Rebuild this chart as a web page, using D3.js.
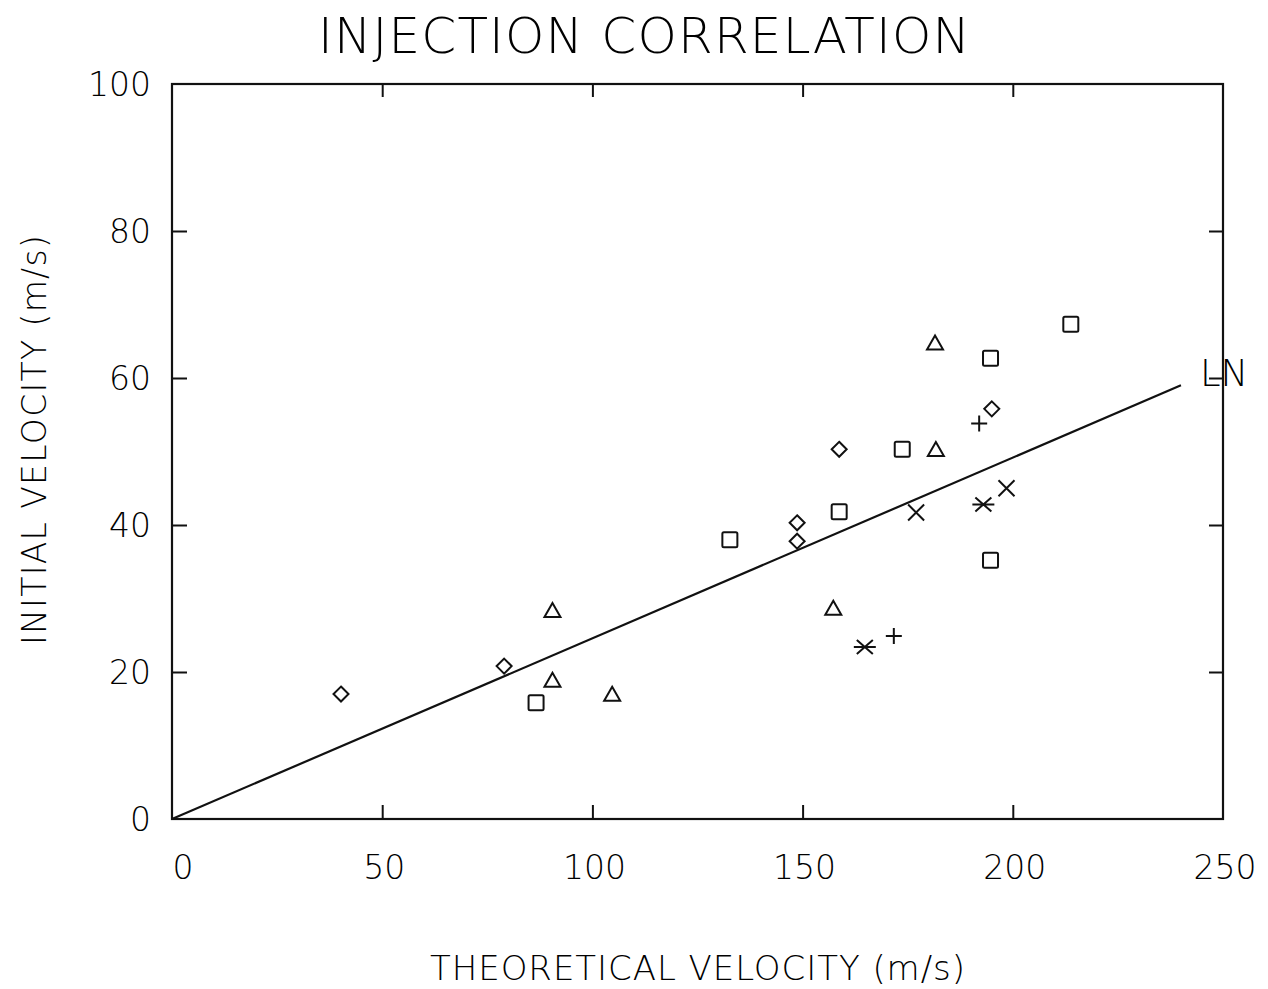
<!DOCTYPE html>
<html>
<head>
<meta charset="utf-8">
<script src="https://cdn.jsdelivr.net/npm/d3@7"></script>
<style>
  html, body { margin: 0; padding: 0; background: #fff; }
  svg text { font-family: "DejaVu Sans", sans-serif; font-weight: 200; fill: #000; }
</style>
</head>
<body>
<svg id="chart" width="1268" height="989"></svg>
<script>
// ---- data ----
const title = "INJECTION CORRELATION";
const xTitle = "THEORETICAL VELOCITY (m/s)";
const yTitle = "INITIAL VELOCITY (m/s)";
const xTickValues = [0, 50, 100, 150, 200, 250];
const yTickValues = [0, 20, 40, 60, 80, 100];

const diamonds  = [[40.2, 17.0], [79.0, 20.8], [148.7, 40.3], [148.7, 37.8], [158.7, 50.3], [195.0, 55.8]];
const triangles = [[90.5, 28.3], [90.5, 18.8], [104.7, 16.9], [157.3, 28.6], [181.7, 50.2], [181.5, 64.7]];
const squares   = [[86.6, 15.8], [132.7, 38.0], [158.7, 41.8], [173.7, 50.3], [194.7, 35.2], [194.7, 62.7], [213.8, 67.3]];
const pluses    = [[192.0, 53.8], [171.7, 24.9]];
const crosses   = [[177.0, 41.7], [198.5, 45.0]];
const stars     = [[193.0, 42.8], [164.8, 23.4]];
const fitLine   = [[0, 0], [240, 59]];
const fitLabel  = "LN";

// ---- layout ----
const svg = d3.select("#chart");
const L = 172, R = 1223, T = 84, B = 819;
const x = d3.scaleLinear().domain([0, 250]).range([L, R]);
const y = d3.scaleLinear().domain([0, 100]).range([B, T]);
const ink = "#111";

// frame
svg.append("rect").attr("x", L).attr("y", T).attr("width", R - L).attr("height", B - T)
  .attr("fill", "none").attr("stroke", ink).attr("stroke-width", 2.2);

// inward ticks using d3 axes
const innerX = [50, 100, 150, 200];
const innerY = [20, 40, 60, 80];
function styleAxis(g) {
  g.select(".domain").remove();
  g.selectAll(".tick line").attr("stroke", ink).attr("stroke-width", 2);
  g.selectAll(".tick text").remove();
}
svg.append("g").attr("transform", `translate(0,${B})`)
  .call(d3.axisTop(x).tickValues(innerX).tickSize(14)).call(styleAxis);
svg.append("g").attr("transform", `translate(0,${T})`)
  .call(d3.axisBottom(x).tickValues(innerX).tickSize(13)).call(styleAxis);
svg.append("g").attr("transform", `translate(${L},0)`)
  .call(d3.axisRight(y).tickValues(innerY).tickSize(15)).call(styleAxis);
svg.append("g").attr("transform", `translate(${R},0)`)
  .call(d3.axisLeft(y).tickValues(innerY).tickSize(14)).call(styleAxis);

// tick labels
svg.append("g").selectAll("text").data(xTickValues).join("text")
  .attr("x", d => x(d) + (d === 0 ? 11 : 2)).attr("y", 879)
  .attr("text-anchor", "middle").attr("font-size", 33)
  .text(d => d);
svg.append("g").selectAll("text").data(yTickValues).join("text")
  .attr("x", 151).attr("y", d => y(d) + 12)
  .attr("text-anchor", "end").attr("font-size", 33)
  .text(d => d);

// titles
svg.append("text").attr("x", 318).attr("y", 53)
  .attr("font-size", 50).attr("textLength", 652).attr("lengthAdjust", "spacing").text(title);
svg.append("text").attr("x", 430).attr("y", 980)
  .attr("font-size", 34).attr("textLength", 535).attr("lengthAdjust", "spacing").text(xTitle);
svg.append("text").attr("transform", "translate(46,645) rotate(-90)")
  .attr("font-size", 33).attr("textLength", 410).attr("lengthAdjust", "spacing").text(yTitle);

// fit line
svg.append("path").datum(fitLine)
  .attr("d", d3.line().x(d => x(d[0])).y(d => y(d[1])))
  .attr("fill", "none").attr("stroke", ink).attr("stroke-width", 2.2);
svg.append("text").attr("x", x(fitLine[1][0]) + 19).attr("y", y(fitLine[1][1]) + 1)
  .attr("font-size", 37).text(fitLabel);

// markers
const mk = svg.append("g").attr("fill", "none").attr("stroke", ink).attr("stroke-width", 2);
const s = 7.5;
mk.selectAll(".dia").data(diamonds).join("path")
  .attr("d", d => { const cx = x(d[0]), cy = y(d[1]); return `M${cx},${cy - s}L${cx + s},${cy}L${cx},${cy + s}L${cx - s},${cy}Z`; });
mk.selectAll(".tri").data(triangles).join("path")
  .attr("d", d => { const cx = x(d[0]), cy = y(d[1]); return `M${cx},${cy - 8}L${cx + 8},${cy + 6}L${cx - 8},${cy + 6}Z`; });
mk.selectAll(".sq").data(squares).join("rect")
  .attr("x", d => x(d[0]) - 7.5).attr("y", d => y(d[1]) - 7.5)
  .attr("width", 15).attr("height", 15).attr("rx", 1.5);
mk.selectAll(".pl").data(pluses).join("path")
  .attr("d", d => { const cx = x(d[0]), cy = y(d[1]); return `M${cx - 8},${cy}H${cx + 8}M${cx},${cy - 8}V${cy + 8}`; });
mk.selectAll(".cr").data(crosses).join("path")
  .attr("d", d => { const cx = x(d[0]), cy = y(d[1]); return `M${cx - 8},${cy - 8}L${cx + 8},${cy + 8}M${cx - 8},${cy + 8}L${cx + 8},${cy - 8}`; });
mk.selectAll(".st").data(stars).join("path")
  .attr("d", d => { const cx = x(d[0]), cy = y(d[1]); return `M${cx - 8},${cy - 7}L${cx + 8},${cy + 7}M${cx - 8},${cy + 7}L${cx + 8},${cy - 7}M${cx - 11},${cy}H${cx + 11}`; });
</script>
</body>
</html>
